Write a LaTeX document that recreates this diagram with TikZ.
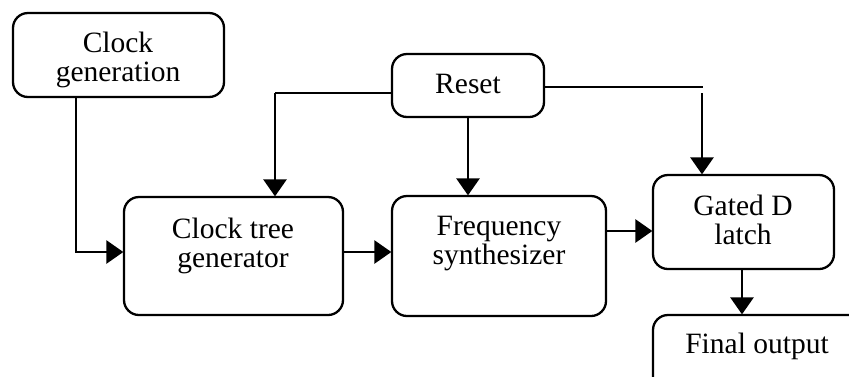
\documentclass[tikz,border=0pt]{standalone}
\usepackage{fontspec}
\setmainfont{Liberation Serif}
\usetikzlibrary{arrows.meta,calc}
\begin{document}
\begin{tikzpicture}[x=1pt,y=-1pt,
  box/.style={draw, line width=2.3pt, rounded corners=15pt, inner sep=0pt},
  txt/.style={align=center, inner sep=0pt, font=\fontsize{29.5}{29}\selectfont},
  conn/.style={line width=2.8pt},
  arr/.style={conn, -{Triangle[length=17pt,width=23pt]}, shorten >=-0.5pt}]
\useasboundingbox (0,0) rectangle (849,376);
\clip (0,0) rectangle (849,376);
\fill[white] (0,0) rectangle (849,376);
% boxes
\node[box, minimum width=211pt, minimum height=84pt] (cg) at (118.5,55) {};
\node[box, minimum width=152pt, minimum height=63pt] (rst) at (468,85.5) {};
\node[box, minimum width=219pt, minimum height=118pt] (ctg) at (233.5,256) {};
\node[box, minimum width=214pt, minimum height=120pt] (fs) at (499,256) {};
\node[box, minimum width=181pt, minimum height=94pt] (lat) at (743.5,222) {};
\node[box, minimum width=260pt, minimum height=120pt] (fo) at (783,375) {};
% texts
\node[txt] (cgt) at (118,60) {Clock\\generation};
\node[txt] (rstt) at (468,84) {Reset};
\node[txt] (ctgt) at (233,246) {Clock tree\\generator};
\node[txt] (fst) at (499,244) {Frequency\\synthesizer};
\node[txt] (latt) at (743,220) {Gated D\\latch};
\node[txt, anchor=base] (fot) at (757,353) {Final output};
% connectors
\coordinate (b1) at (76,252);
\draw[arr] (cg.south -| b1) -- (b1) -- (ctg.west |- b1);
\draw[arr] (ctg.east |- b1) -- (fs.west |- b1);
\coordinate (b2) at (606,231);
\draw[arr] (fs.east |- b2) -- (lat.west |- b2);
\coordinate (b3) at (275,93);
\draw[conn] (rst.west |- b3) -- (b3);
\draw[arr] (b3) -- (ctg.north -| b3);
\draw[arr] (rst.south) -- (fs.north -| rst.south);
\coordinate (b4) at (703,87);
\coordinate (b5) at (702,93);
\draw[conn] (rst.east |- b4) -- (b4);
\draw[arr] (b5) -- (lat.north -| b5);
\coordinate (b6) at (742,269);
\draw[arr] (lat.south -| b6) -- (fo.north -| b6);
\end{tikzpicture}
\end{document}
